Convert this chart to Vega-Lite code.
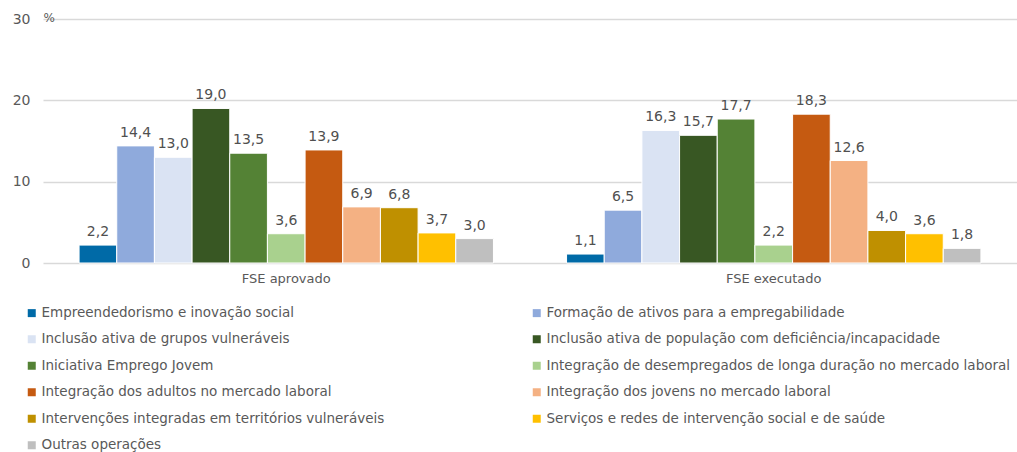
{
  "$schema": "https://vega.github.io/schema/vega-lite/v6.json",
  "width": 974,
  "height": 244,
  "autosize": {"type": "none"},
  "padding": {"left": 43, "top": 19, "right": 0, "bottom": 189},
  "config": {
    "view": {"stroke": null},
    "font": "DejaVu Sans",
    "locale": {"number": {"decimal": ",", "thousands": ".", "grouping": [3], "currency": ["", "€"]}}
  },
  "data": {
    "values": [
      {"grupo": "FSE aprovado", "categoria": "Empreendedorismo e inovação social", "valor": 2.2},
      {"grupo": "FSE aprovado", "categoria": "Formação de ativos para a empregabilidade", "valor": 14.4},
      {"grupo": "FSE aprovado", "categoria": "Inclusão ativa de grupos vulneráveis", "valor": 13.0},
      {"grupo": "FSE aprovado", "categoria": "Inclusão ativa de população com deficiência/incapacidade", "valor": 19.0},
      {"grupo": "FSE aprovado", "categoria": "Iniciativa Emprego Jovem", "valor": 13.5},
      {"grupo": "FSE aprovado", "categoria": "Integração de desempregados de longa duração no mercado laboral", "valor": 3.6},
      {"grupo": "FSE aprovado", "categoria": "Integração dos adultos no mercado laboral", "valor": 13.9},
      {"grupo": "FSE aprovado", "categoria": "Integração dos jovens no mercado laboral", "valor": 6.9},
      {"grupo": "FSE aprovado", "categoria": "Intervenções integradas em territórios vulneráveis", "valor": 6.8},
      {"grupo": "FSE aprovado", "categoria": "Serviços e redes de intervenção social e de saúde", "valor": 3.7},
      {"grupo": "FSE aprovado", "categoria": "Outras operações", "valor": 3.0},
      {"grupo": "FSE executado", "categoria": "Empreendedorismo e inovação social", "valor": 1.1},
      {"grupo": "FSE executado", "categoria": "Formação de ativos para a empregabilidade", "valor": 6.5},
      {"grupo": "FSE executado", "categoria": "Inclusão ativa de grupos vulneráveis", "valor": 16.3},
      {"grupo": "FSE executado", "categoria": "Inclusão ativa de população com deficiência/incapacidade", "valor": 15.7},
      {"grupo": "FSE executado", "categoria": "Iniciativa Emprego Jovem", "valor": 17.7},
      {"grupo": "FSE executado", "categoria": "Integração de desempregados de longa duração no mercado laboral", "valor": 2.2},
      {"grupo": "FSE executado", "categoria": "Integração dos adultos no mercado laboral", "valor": 18.3},
      {"grupo": "FSE executado", "categoria": "Integração dos jovens no mercado laboral", "valor": 12.6},
      {"grupo": "FSE executado", "categoria": "Intervenções integradas em territórios vulneráveis", "valor": 4.0},
      {"grupo": "FSE executado", "categoria": "Serviços e redes de intervenção social e de saúde", "valor": 3.6},
      {"grupo": "FSE executado", "categoria": "Outras operações", "valor": 1.8}
    ]
  },
  "encoding": {
    "x": {
      "field": "grupo", "type": "nominal", "sort": ["FSE aprovado", "FSE executado"],
      "scale": {"paddingInner": 0.15, "paddingOuter": 0.074},
      "axis": {"title": null, "labelAngle": 0, "domain": false, "ticks": false, "labelColor": "#595959", "labelFontSize": 13, "labelPadding": 9}
    },
    "xOffset": {
      "field": "categoria", "type": "nominal",
      "sort": ["Empreendedorismo e inovação social", "Formação de ativos para a empregabilidade", "Inclusão ativa de grupos vulneráveis", "Inclusão ativa de população com deficiência/incapacidade", "Iniciativa Emprego Jovem", "Integração de desempregados de longa duração no mercado laboral", "Integração dos adultos no mercado laboral", "Integração dos jovens no mercado laboral", "Intervenções integradas em territórios vulneráveis", "Serviços e redes de intervenção social e de saúde", "Outras operações"],
      "scale": {"paddingInner": 0, "paddingOuter": 0}
    },
    "y": {
      "field": "valor", "type": "quantitative",
      "scale": {"domain": [0, 30], "nice": false},
      "axis": {
        "title": "%", "titleAngle": 0, "titleX": 0, "titleY": -2, "titleAlign": "left", "titleBaseline": "middle",
        "titleFontSize": 12, "titleFontWeight": "normal", "titleColor": "#595959",
        "values": [0, 10, 20, 30], "domain": false, "ticks": false,
        "labelPadding": 13, "labelFontSize": 14, "labelColor": "#595959",
        "gridColor": "#d9d9d9", "gridWidth": 1.5
      }
    }
  },
  "layer": [
    {
      "mark": {"type": "bar", "stroke": "white", "strokeWidth": 1},
      "encoding": {
        "color": {
          "field": "categoria", "type": "nominal",
          "sort": ["Empreendedorismo e inovação social", "Formação de ativos para a empregabilidade", "Inclusão ativa de grupos vulneráveis", "Inclusão ativa de população com deficiência/incapacidade", "Iniciativa Emprego Jovem", "Integração de desempregados de longa duração no mercado laboral", "Integração dos adultos no mercado laboral", "Integração dos jovens no mercado laboral", "Intervenções integradas em territórios vulneráveis", "Serviços e redes de intervenção social e de saúde", "Outras operações"],
          "scale": {
            "domain": ["Empreendedorismo e inovação social", "Formação de ativos para a empregabilidade", "Inclusão ativa de grupos vulneráveis", "Inclusão ativa de população com deficiência/incapacidade", "Iniciativa Emprego Jovem", "Integração de desempregados de longa duração no mercado laboral", "Integração dos adultos no mercado laboral", "Integração dos jovens no mercado laboral", "Intervenções integradas em territórios vulneráveis", "Serviços e redes de intervenção social e de saúde", "Outras operações"],
            "range": ["#006AA7", "#8FAADC", "#DAE3F3", "#385723", "#548235", "#A9D18E", "#C55A11", "#F4B183", "#BF9000", "#FFC000", "#BFBFBF"]
          },
          "legend": {
            "title": null, "orient": "none", "legendX": -18, "legendY": 287,
            "direction": "horizontal",
            "columns": 2, "gridAlign": "all", "columnPadding": 24, "rowPadding": 11.5,
            "symbolType": "square", "symbolSize": 64, "symbolStrokeWidth": 0,
            "labelFontSize": 13.5, "labelColor": "#595959", "labelLimit": 700, "labelOffset": 3
          }
        }
      }
    },
    {
      "mark": {"type": "text", "baseline": "bottom", "dy": -6, "fontSize": 14, "color": "#505050"},
      "encoding": {
        "text": {"field": "valor", "type": "quantitative", "format": ".1f"}
      }
    }
  ]
}
